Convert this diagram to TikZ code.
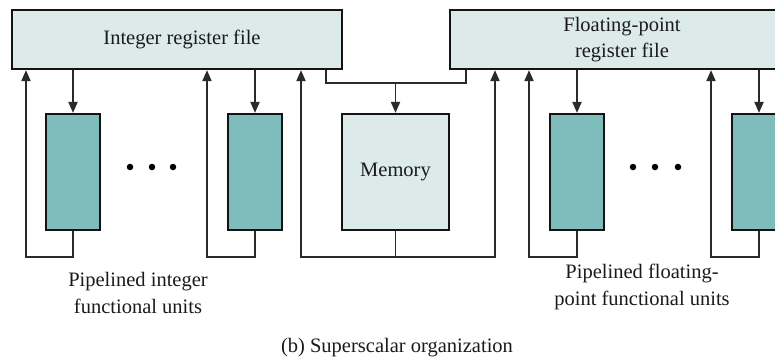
\documentclass[tikz,border=0pt]{standalone}
\usepackage{fontspec}
\setmainfont{Liberation Serif}
\usetikzlibrary{arrows.meta}
\definecolor{regfill}{HTML}{DCEAE9}
\definecolor{unitfill}{HTML}{7FBDBC}
\definecolor{edgecol}{HTML}{141414}
\definecolor{wirecol}{HTML}{2A2A2A}
\definecolor{txtcol}{HTML}{1A1A1A}
\begin{document}
\begin{tikzpicture}[x=1pt,y=-1pt,
  box/.style={draw=edgecol,line width=2.2pt,inner sep=0pt,align=center,text=txtcol,font=\fontsize{20.5}{26}\selectfont},
  regbox/.style={box,fill=regfill,minimum height=59pt},
  unitbox/.style={box,fill=unitfill,minimum width=54pt,minimum height=116pt},
  membox/.style={box,fill=regfill,minimum width=107pt,minimum height=116pt},
  wire/.style={draw=wirecol,line width=1.9pt},
  arr/.style={wire,-{Triangle[length=11pt,width=9pt]}},
  lbl/.style={align=center,text=txtcol,font=\fontsize{20.5}{27.5}\selectfont},
  dotnode/.style={circle,fill=black,inner sep=0pt,minimum size=6.5pt}]
\useasboundingbox (0,0) rectangle (775,360);
\clip (0,0) rectangle (775,360);
% register files
\node[regbox,minimum width=330pt] (ireg) at (177,39.5) {\hspace*{10pt}Integer register file};
\node[regbox,minimum width=344pt] (freg) at (622,39.5) {Floating-point\\register file};
% units
\node[unitbox] (u1) at (73,172) {};
\node[unitbox] (u2) at (255,172) {};
\node[membox] (mem) at (395.5,172) {Memory};
\node[unitbox] (u3) at (577,172) {};
\node[unitbox] (u4) at (759,172) {};
% down arrows into units
\draw[arr] (ireg.south -| u1.north) -- (u1.north);
\draw[arr] (ireg.south -| u2.north) -- (u2.north);
\draw[arr] (freg.south -| u3.north) -- (u3.north);
\draw[arr] (freg.south -| u4.north) -- (u4.north);
% feedback loops
\coordinate (b1) at (26,257);
\coordinate (b2) at (207,257);
\coordinate (b3) at (529,257);
\coordinate (b4) at (711,257);
\draw[arr] (u1.south) |- (b1) -- (b1 |- ireg.south);
\draw[arr] (u2.south) |- (b2) -- (b2 |- ireg.south);
\draw[arr] (u3.south) |- (b3) -- (b3 |- freg.south);
\draw[arr] (u4.south) |- (b4) -- (b4 |- freg.south);
% memory connections
\coordinate (tl) at (326,83);
\coordinate (tr) at (466,83);
\draw[wire] (tl |- ireg.south) -- (tl) -- (tr) -- (tr |- freg.south);
\draw[arr] (mem.north |- tl) -- (mem.north);
\coordinate (ml) at (301,257);
\coordinate (mr) at (495,257);
\coordinate (mb) at (mem.south |- ml);
\draw[wire] (mem.south) -- (mb);
\draw[arr] (mb) -- (ml) -- (ml |- ireg.south);
\draw[arr] (mb) -- (mr) -- (mr |- freg.south);
% dots
\node[dotnode] (d1) at (130,167) {};
\node[dotnode] (d2) at (152,167) {};
\node[dotnode] (d3) at (173,167) {};
\node[dotnode] (d4) at (633,167) {};
\node[dotnode] (d5) at (655,167) {};
\node[dotnode] (d6) at (678,167) {};
% labels
\node[lbl] (lint) at (138,293) {Pipelined integer\\functional units};
\node[lbl] (lfp) at (642,287) {Pipelined floating-\\point functional units};
\node[lbl] (cap) at (397,348) {(b) Superscalar organization};
\end{tikzpicture}
\end{document}
